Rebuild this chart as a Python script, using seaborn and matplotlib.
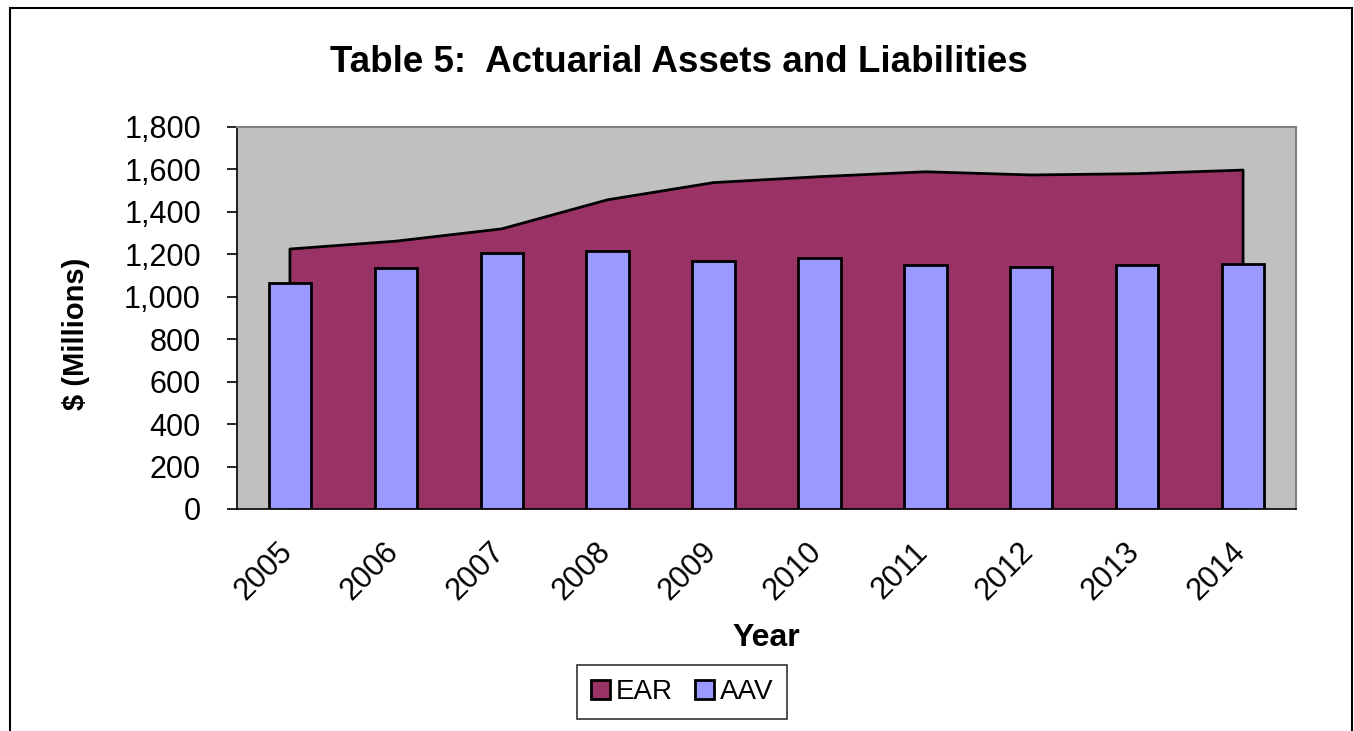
import numpy as np
import pandas as pd
import matplotlib
matplotlib.use('Agg')
import matplotlib.pyplot as plt
import matplotlib.patches as mpatches
import seaborn as sns

# chart values
years = ['2005', '2006', '2007', '2008', '2009', '2010', '2011', '2012', '2013', '2014']
ear = [1225, 1262, 1320, 1457, 1538, 1566, 1589, 1574, 1580, 1597]
aav = [1064, 1134, 1208, 1218, 1168, 1184, 1148, 1142, 1148, 1156]
yticks = [0, 200, 400, 600, 800, 1000, 1200, 1400, 1600, 1800]

df = pd.DataFrame({'Year': years, 'EAR': ear, 'AAV': aav})

sns.set_style('white')
plt.rcParams['font.family'] = ['Liberation Sans', 'DejaVu Sans']
plt.rcParams['text.color'] = 'black'
plt.rcParams['axes.labelcolor'] = 'black'
plt.rcParams['xtick.color'] = 'black'
plt.rcParams['ytick.color'] = 'black'

fig = plt.figure(figsize=(13.54, 7.31), dpi=100)
ax = fig.add_axes([237 / 1354, 1 - 509 / 731, (1296 - 237) / 1354, (509 - 127) / 731])
ax.set_facecolor('#C0C0C0')

# EAR area
xpos = np.arange(len(years))
ax.fill_between(xpos, 0, df['EAR'], color='#993366', linewidth=0, zorder=1)
ax.plot(np.r_[xpos[0], xpos, xpos[-1]], np.r_[0, df['EAR'], 0], color='black', lw=2, zorder=2)

# AAV bars
sns.barplot(data=df, x='Year', y='AAV', color='#9999FF', saturation=1, width=0.4,
            edgecolor='black', linewidth=2, ax=ax, zorder=3)

ax.set_xlim(-0.5, len(years) - 0.5)
ax.set_ylim(0, 1800)
ax.set_yticks(yticks)
ax.set_yticklabels([f'{v:,}' for v in yticks], fontsize=22)
# label anchors sit a little left of the category centres (tick marks are hidden)
ax.set_xticks(xpos - 0.12)
ax.set_xticklabels(years, rotation=45, ha='right', va='top', rotation_mode='anchor', fontsize=22)
ax.set_xticks(np.arange(-0.5, len(years)), minor=True)
ax.tick_params(axis='x', which='major', length=0, pad=20)
ax.tick_params(axis='x', which='minor', length=13, width=1.2, direction='inout', color='black')
ax.tick_params(axis='y', length=7, width=1.2, direction='out', color='black', left=True, pad=19)

for s in ['top', 'right']:
    ax.spines[s].set_color('#808080')
    ax.spines[s].set_linewidth(1.5)
for s in ['left', 'bottom']:
    ax.spines[s].set_color('black')
    ax.spines[s].set_linewidth(1.2)

ax.set_xlabel('Year', fontsize=23, fontweight='bold')
ax.xaxis.set_label_coords(0.4995, -0.298)
ax.set_ylabel('$ (Millions)', fontsize=21, fontweight='bold')
ax.yaxis.set_label_coords(-0.139, 0.458)

fig.text(679 / 1354, 1 - 63 / 731, 'Table 5:  Actuarial Assets and Liabilities', ha='center', va='center',
         fontsize=26.5, fontweight='bold')

handles = [mpatches.Patch(facecolor='#993366', edgecolor='black', linewidth=2, label='EAR'),
           mpatches.Patch(facecolor='#9999FF', edgecolor='black', linewidth=2, label='AAV')]
leg = fig.legend(handles=handles, loc='center', bbox_to_anchor=(682 / 1354, 1 - 692 / 731), ncol=2,
                 fontsize=20, frameon=True, fancybox=False, handlelength=0.7, handleheight=0.7,
                 handletextpad=0.2, columnspacing=0.8, borderpad=0.5)
leg.get_frame().set_edgecolor('black')
leg.get_frame().set_linewidth(1.2)

# outer chart border
fig.patches.append(mpatches.Rectangle((10 / 1354, -0.01), (1352 - 10) / 1354, 1 - 8 / 731 + 0.01,
                                      transform=fig.transFigure, fill=False, edgecolor='black', lw=1.5))

fig.savefig('out.png', dpi=100)
